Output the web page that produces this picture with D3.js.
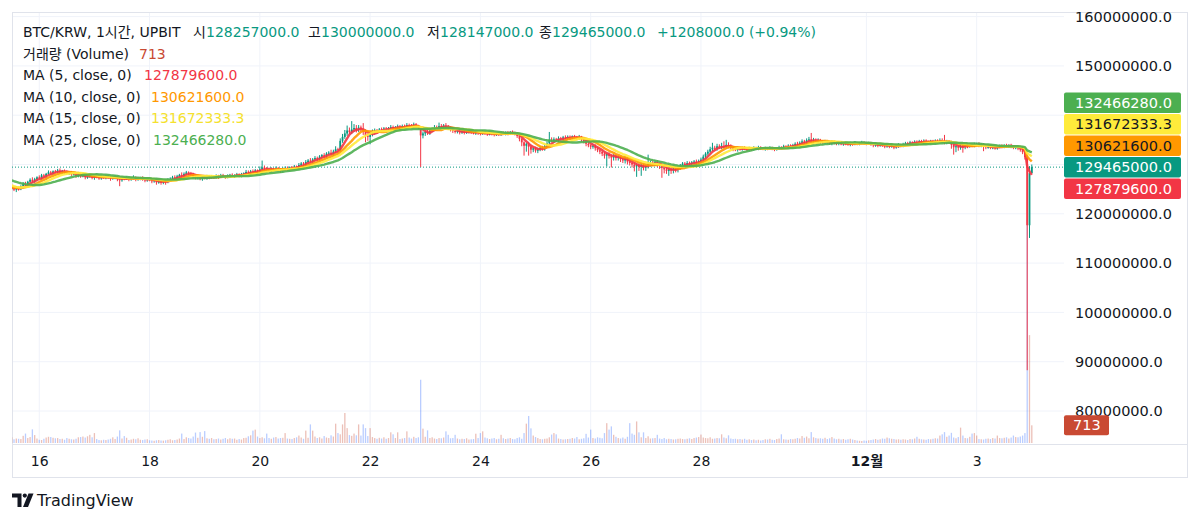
<!DOCTYPE html>
<html>
<head>
<meta charset="utf-8">
<script src="https://cdn.jsdelivr.net/npm/d3@7"></script>
<style>
  body { margin: 0; background: #fff; }
  svg text { font-family: "DejaVu Sans", "Noto Sans CJK KR", sans-serif; }
</style>
</head>
<body>
<svg id="chart" width="1200" height="522"></svg>
<script>
// BTC/KRW 1h, UPBIT - candles + volume + 4 moving averages
// prices are in units of 100,000 KRW (1253 = 125,300,000)
const UNIT = 1e5;
const startTime = '2024-11-15 12';   // first visible hourly candle

// closes before the visible window (only feed the moving averages)
const preCloses = [1288,1286,1289,1284,1282,1285,1280,1278,1281,1276,1273,1270,1264,1260,1256,1258,1254,1252,1256,1253,1250,1254,1257,1252];

const closes = [
  1253,1249,1252,1250,1256,1261,1258,1265,1269,1266, // 0
  1270,1274,1272,1278,1276,1281,1284,1282,1286,1285,
  1288,1284,1287,1285,1282,1284,1280,1281,1277,1279,
  1276,1278,1274,1275,1277,1273,1276,1274,1272,1275,
  1273,1276,1274,1271,1273,1275,1270,1268,1272,1271, // 40
  1273,1270,1272,1274,1269,1271,1273,1270,1268,1271,
  1269,1266,1268,1264,1265,1263,1267,1265,1269,1271,
  1274,1272,1276,1279,1277,1281,1284,1282,1280,1276,
  1273,1275,1271,1274,1272,1276,1273,1275,1274,1277, // 80
  1275,1278,1276,1274,1277,1279,1276,1278,1280,1277,
  1280,1282,1285,1283,1286,1284,1288,1286,1290,1294,
  1292,1290,1288,1291,1289,1292,1290,1287,1291,1293,
  1291,1294,1292,1296,1295,1299,1302,1300,1305,1308, // 120
  1306,1310,1313,1311,1316,1319,1317,1322,1324,1321,
  1326,1331,1329,1348,1356,1363,1369,1366,1371,1374,
  1370,1375,1372,1366,1359,1356,1362,1366,1369,1367,
  1371,1370,1373,1371,1374,1376,1373,1375,1377,1374, // 160
  1378,1376,1380,1379,1377,1381,1378,1375,1359,1363,
  1366,1364,1369,1373,1376,1374,1378,1376,1379,1377,
  1374,1370,1368,1366,1369,1365,1367,1364,1366,1368,
  1365,1363,1366,1364,1362,1365,1363,1361,1364,1362, // 200
  1360,1363,1361,1364,1362,1365,1363,1366,1364,1362,
  1358,1352,1345,1338,1342,1336,1330,1333,1328,1331,
  1334,1332,1337,1343,1350,1348,1351,1349,1353,1352,
  1355,1353,1356,1354,1357,1355,1353,1356,1351,1347, // 240
  1342,1339,1336,1338,1333,1329,1326,1322,1318,1321,
  1317,1314,1318,1313,1315,1311,1308,1312,1306,1303,
  1300,1296,1299,1295,1298,1294,1297,1301,1304,1302,
  1305,1301,1297,1293,1290,1287,1291,1288,1292,1289, // 280
  1294,1298,1302,1299,1303,1301,1304,1306,1303,1307,
  1310,1316,1322,1326,1331,1334,1332,1337,1335,1338,
  1336,1340,1337,1334,1331,1330,1333,1331,1334,1332,
  1330,1333,1331,1334,1332,1335,1333,1331,1333,1332, // 320
  1334,1332,1330,1333,1335,1334,1337,1335,1338,1336,
  1339,1342,1340,1344,1347,1345,1349,1351,1348,1350,
  1347,1349,1346,1344,1347,1345,1343,1346,1344,1342,
  1344,1341,1343,1342,1340,1343,1341,1344,1342,1343, // 360
  1345,1343,1342,1344,1341,1339,1340,1338,1341,1339,
  1337,1339,1336,1338,1335,1337,1340,1338,1341,1343,
  1342,1345,1343,1346,1344,1347,1345,1348,1346,1344,
  1347,1345,1348,1346,1349,1347,1344,1346,1345,1340, // 400
  1335,1337,1334,1338,1336,1339,1337,1340,1338,1341,
  1341,1338,1340,1337,1335,1336,1334,1335,1333,1336,
  1338,1336,1339,1337,1339,1336,1334,1335,1333,1330,
  1325,1315,1176.76,1282.57,1294.65                   // 440
];

// wick length above / below the body, same units
const wickHi = [
  3,2,4,3,2,3,4,2,3,5, 3,2,4,3,3,2,4,3,2,3, 3,4,2,3,3,2,3,4,2,3, 2,3,3,2,4,3,2,3,2,3,
  3,2,3,2,4,3,2,3,3,2, 3,2,3,4,2,3,2,3,3,2, 2,3,2,3,2,2,3,2,3,3, 3,4,3,2,5,3,3,2,3,3,
  3,4,3,2,4,3,2,3,2,3, 2,3,3,2,3,2,3,2,3,2, 3,2,4,3,3,4,3,2,6,14, 4,3,2,3,2,4,3,2,3,3,
  3,2,3,3,2,4,3,3,4,3, 5,3,4,3,3,2,4,3,3,6, 4,6,3,5,6,7,10,6,17,8, 6,5,4,12,5,4,3,5,4,3,
  3,4,3,3,2,4,3,3,4,3, 3,3,4,3,3,4,3,2,2,4, 3,4,3,3,4,3,7,4,3,5, 3,3,2,3,4,3,2,3,2,3,
  2,3,3,2,3,4,2,3,2,2, 3,2,3,2,3,2,3,2,3,2, 3,2,3,2,3,4,3,2,3,3, 3,4,3,4,16,5,4,3,4,3,
  3,4,3,3,2,3,3,4,2,3, 3,3,2,3,3,2,3,3,4,3, 4,3,3,2,3,3,3,4,3,3, 3,4,3,3,4,3,3,19,4,3,
  3,4,3,3,2,3,3,3,2,3, 4,3,3,3,4,3,3,3,4,3, 4,4,3,4,5,10,4,5,4,6, 9,10,5,4,3,3,3,3,2,3,
  2,3,2,3,2,3,2,2,3,2, 3,2,3,2,3,2,3,2,3,3, 3,3,4,3,4,3,4,5,13,4, 3,4,3,3,3,2,3,3,2,3,
  2,3,2,3,2,3,2,3,2,2, 3,2,3,2,2,3,2,3,2,2, 2,3,2,2,3,2,3,2,3,3, 3,3,2,3,3,3,3,3,3,2,
  3,3,3,3,4,4,13,4,3,3, 3,3,2,3,3,2,3,3,2,3, 3,4,3,3,2,3,2,3,2,3, 2,3,2,3,2,3,3,2,2,2,
  2,3,3,14,5.35
];
const wickLo = [
  4,3,5,3,2,4,3,3,2,3, 3,4,2,3,3,4,2,3,3,2, 3,2,3,4,2,3,3,2,4,3, 3,2,4,3,2,3,4,2,3,3,
  2,3,3,4,2,3,4,12,3,3, 2,4,3,3,3,2,3,3,4,3, 3,4,3,5,3,4,3,6,3,3, 2,3,3,2,4,3,2,3,3,4,
  3,3,3,4,2,3,3,2,3,3, 4,2,3,3,2,3,2,3,3,3, 3,2,3,3,2,4,3,3,3,4, 3,4,3,3,3,2,3,4,3,3,
  3,3,2,3,4,3,3,3,4,3, 4,3,3,4,3,3,3,4,3,3, 4,3,4,3,4,4,5,4,4,5, 5,4,5,6,14,8,15,5,4,4,
  3,4,3,3,4,3,3,4,3,3, 3,4,3,4,3,3,4,3,64,6, 5,4,4,3,4,3,3,4,3,3, 4,3,4,3,3,4,3,3,2,3,
  3,2,3,4,3,2,3,3,2,3, 3,2,3,3,2,3,4,3,4,3, 4,5,8,20,12,18,8,5,4,5, 4,4,4,3,4,3,4,3,3,3,
  3,2,3,4,3,3,4,3,5,4, 5,4,5,4,5,4,5,5,6,22, 5,20,6,5,5,6,5,6,6,5, 6,10,21,8,18,6,7,5,5,5,
  5,6,6,20,8,6,10,7,6,5, 5,5,4,4,5,4,3,4,4,3, 4,3,4,4,3,4,3,4,3,4, 3,4,4,3,4,3,4,3,3,2,
  3,2,3,3,2,3,3,2,3,3, 2,3,3,2,3,3,2,3,3,2, 3,3,2,3,3,4,3,3,3,4, 3,3,4,3,2,3,3,4,3,3,
  3,2,3,3,2,3,3,2,3,3, 2,3,3,2,3,4,3,3,2,3, 4,3,3,2,4,3,3,2,3,3, 3,2,3,3,2,3,3,2,3,3,
  3,3,2,3,3,2,3,3,3,8, 15,10,6,4,12,5,4,3,3,3, 3,3,3,10,4,3,3,3,3,3, 3,2,3,3,2,3,3,3,4,4,
  4,5,294.06,25.76,1.1
];

// hourly volume, BTC
const volumes = [
  230,150,180,170,160,290,380,200,240,550, 320,180,130,120,170,220,250,240,210,190,
  200,160,170,130,200,170,150,140,170,230, 240,260,220,270,330,230,400,160,120,110,
  130,120,140,170,230,160,260,510,180,280, 210,120,140,170,150,190,130,120,140,150,
  110,100,90,110,120,100,95,110,130,150, 110,120,140,180,380,160,230,200,180,260,
  420,210,440,250,480,190,170,200,150,160, 180,140,170,200,150,190,170,180,130,160,
  140,200,210,270,310,500,540,260,200,230, 190,380,200,170,220,240,180,200,210,400,
  180,170,160,200,230,300,220,170,500,210, 750,500,260,200,230,180,280,220,200,310,
  260,780,400,350,750,1210,600,320,290,380, 310,750,300,750,600,280,600,240,200,170,
  210,180,230,170,200,430,350,200,430,160, 180,200,470,220,180,250,200,230,2550,580,
  250,510,200,230,180,160,200,190,220,470, 330,190,200,330,180,150,170,160,190,140,
  150,160,375,200,400,470,220,190,160,180, 200,150,170,330,190,160,180,200,160,150,
  200,230,170,400,780,1090,590,300,240,200, 160,150,170,180,230,340,400,350,180,160,
  140,150,160,170,200,180,240,150,170,190, 370,220,540,200,180,230,210,190,400,800,
  540,670,330,250,200,180,220,170,250,800, 380,330,870,430,230,430,200,270,180,190,
  200,330,180,160,200,150,170,160,140,150, 170,180,160,150,170,190,160,200,220,240,
  340,220,200,190,230,170,180,200,190,350, 220,190,310,180,160,170,150,160,140,170,
  130,150,120,140,110,130,100,120,150,140, 170,130,120,160,180,350,150,140,130,160,
  150,170,200,180,280,210,260,190,440,230, 200,180,190,170,210,160,190,240,180,150,
  170,140,160,130,150,170,140,120,100,90, 80,100,90,110,120,140,160,130,150,180,
  170,220,190,170,160,140,150,130,150,140, 120,160,150,180,250,170,150,140,130,160,
  150,170,190,180,300,350,440,250,300,410, 220,190,240,620,300,200,190,250,380,400,
  300,160,150,140,170,180,160,200,180,300, 200,190,210,230,180,220,300,240,230,260,
  300,400,9000,4350,713
];

const maPeriods = [5, 10, 15, 25];
const maColors = ['#f23645', '#ff9800', '#ffeb3b', '#4caf50'];
const maLast = ['127879600.0', '130621600.0', '131672333.3', '132466280.0'];

const priceTicks = [80, 90, 100, 110, 120, 130, 140, 150, 160].map(d => d * 1e6);
const tickDates = ['2024-11-16','2024-11-18','2024-11-20','2024-11-22','2024-11-24','2024-11-26','2024-11-28','2024-12-01','2024-12-03'];
const tickLabels = ['16','18','20','22','24','26','28','12월','3'];

const ohlc = { o: '128257000.0', h: '130000000.0', l: '128147000.0', c: '129465000.0', chg: '+1208000.0 (+0.94%)' };
const lastVolume = 713;

// ---- layout
const pane = { x0: 12, y0: 12, x1: 1064, y1: 444 };
const axisRight = 1187, axisBottom = 477;
const UP = '#089981', DOWN = '#f23645';
const VOL_UP = 'rgba(200,74,51,0.35)', VOL_DOWN = 'rgba(41,98,255,0.32)';
const TXT = '#131722', GRID = '#f0f3fa', BORDER = '#e0e3eb';

const svg = d3.select('#chart');

const t0 = d3.timeParse('%Y-%m-%d %H')(startTime);
const hour = 3600 * 1000;
const n = closes.length;
const x = d3.scaleTime()
  .domain([t0, new Date(+t0 + (n - 1) * hour)])
  .range([11.7, 1031.8]);
const y = d3.scaleLinear().domain([80e6, 160e6]).range([411, 16.6]);
const yVol = d3.scaleLinear().domain([0, 10000]).range([443, 195]);

const candles = closes.map((c, i) => {
  const o = i === 0 ? preCloses[preCloses.length - 1] : closes[i - 1];
  return {
    t: new Date(+t0 + i * hour),
    o: o * UNIT, c: c * UNIT,
    h: (Math.max(o, c) + wickHi[i]) * UNIT,
    l: (Math.min(o, c) - wickLo[i]) * UNIT,
    v: volumes[i]
  };
});

const all = preCloses.concat(closes);
function movingAvg(p) {
  return closes.map((c, i) => {
    const end = preCloses.length + i;
    return { t: candles[i].t, v: d3.mean(all.slice(end - p + 1, end + 1)) * UNIT };
  });
}

// ---- grid
const grid = svg.append('g');
grid.selectAll('.hg').data(priceTicks).enter().append('line')
  .attr('x1', pane.x0).attr('x2', pane.x1)
  .attr('y1', d => y(d)).attr('y2', d => y(d))
  .attr('stroke', GRID);
const parseDay = d3.timeParse('%Y-%m-%d');
const tickTimes = tickDates.map(parseDay);
grid.selectAll('.vg').data(tickTimes).enter().append('line')
  .attr('x1', d => x(d)).attr('x2', d => x(d))
  .attr('y1', pane.y0).attr('y2', pane.y1)
  .attr('stroke', GRID);

// ---- frame
svg.append('rect')
  .attr('x', pane.x0 + 0.5).attr('y', pane.y0 + 0.5)
  .attr('width', axisRight - pane.x0).attr('height', axisBottom - pane.y0)
  .attr('fill', 'none').attr('stroke', BORDER);
svg.append('line').attr('x1', pane.x0).attr('x2', axisRight)
  .attr('y1', pane.y1 + 0.5).attr('y2', pane.y1 + 0.5).attr('stroke', BORDER);

svg.append('clipPath').attr('id', 'clip').append('rect')
  .attr('x', pane.x0).attr('y', pane.y0)
  .attr('width', pane.x1 - pane.x0).attr('height', pane.y1 - pane.y0);
const plot = svg.append('g').attr('clip-path', 'url(#clip)');

// ---- volume
plot.append('g').selectAll('rect').data(candles).enter().append('rect')
  .attr('x', d => x(d.t) - 0.65).attr('width', 1.3)
  .attr('y', d => yVol(d.v)).attr('height', d => yVol(0) - yVol(d.v))
  .attr('fill', d => d.c >= d.o ? VOL_UP : VOL_DOWN);

// ---- close line
const lastClose = candles[n - 1].c;
plot.append('line')
  .attr('x1', pane.x0).attr('x2', pane.x1)
  .attr('y1', y(lastClose)).attr('y2', y(lastClose))
  .attr('stroke', UP).attr('stroke-dasharray', '1 2');

// ---- candles
const cg = plot.append('g').selectAll('g').data(candles).enter().append('g');
cg.append('line')
  .attr('x1', d => x(d.t)).attr('x2', d => x(d.t))
  .attr('y1', d => y(d.h)).attr('y2', d => y(d.l))
  .attr('stroke', d => d.c >= d.o ? UP : DOWN).attr('stroke-width', 1);
cg.append('rect')
  .attr('x', d => x(d.t) - 0.9).attr('width', 1.8)
  .attr('y', d => y(Math.max(d.o, d.c)))
  .attr('height', d => Math.max(1, Math.abs(y(d.o) - y(d.c))))
  .attr('fill', d => d.c >= d.o ? UP : DOWN);

// ---- moving averages
const line = d3.line().x(d => x(d.t)).y(d => y(d.v));
maPeriods.forEach((p, k) => {
  plot.append('path')
    .datum(movingAvg(p))
    .attr('fill', 'none')
    .attr('stroke', maColors[k])
    .attr('stroke-width', 2.4)
    .attr('stroke-opacity', 0.9)
    .attr('stroke-linejoin', 'round')
    .attr('d', line);
});

// ---- right badges (stacked so they do not overlap)
const badgeH = 21.5;
const badges = maPeriods.map((p, k) => ({
  v: +maLast[k], text: maLast[k], fill: maColors[k],
  fg: (k === 1 || k === 2) ? TXT : '#fff'
}));
badges.push({ v: lastClose, text: ohlc.c, fill: UP, fg: '#fff', anchor: true });
badges.sort((a, b) => b.v - a.v);
const ai = badges.findIndex(b => b.anchor);
badges[ai].y = y(badges[ai].v);
for (let k = ai - 1; k >= 0; k--) badges[k].y = Math.min(y(badges[k].v), badges[k + 1].y - badgeH);
for (let k = ai + 1; k < badges.length; k++) badges[k].y = Math.max(y(badges[k].v), badges[k - 1].y + badgeH);

// ---- price axis (labels hidden under the badges are dropped, like the original)
const freeTicks = priceTicks.filter(t => badges.every(b => Math.abs(y(t) - b.y) > badgeH / 2 + 9));
const ya = svg.append('g').attr('transform', `translate(${pane.x1},0)`)
  .call(d3.axisRight(y).tickValues(freeTicks).tickSize(0).tickPadding(11)
    .tickFormat(d => d.toFixed(1)));
ya.select('.domain').remove();
ya.selectAll('text').attr('font-size', 14.5).attr('fill', TXT)
  .attr('font-family', '"DejaVu Sans", sans-serif');

// ---- time axis
const xa = svg.append('g').attr('transform', `translate(0,${pane.y1})`)
  .call(d3.axisBottom(x).tickValues(tickTimes).tickSize(0).tickPadding(12)
    .tickFormat((d, i) => tickLabels[i]));
xa.select('.domain').remove();
xa.selectAll('text').attr('font-size', 14).attr('fill', TXT)
  .attr('font-weight', (d, i) => tickLabels[i].includes('월') ? 700 : 400);

const bg = svg.append('g').selectAll('g').data(badges).enter().append('g')
  .attr('transform', d => `translate(${pane.x1},${d.y})`);
bg.append('rect').attr('x', 0).attr('y', -badgeH / 2 + 0.5)
  .attr('width', 117).attr('height', badgeH - 1).attr('rx', 2)
  .attr('fill', d => d.fill);
bg.append('text').attr('x', 11).attr('y', 5)
  .attr('font-size', 14.5).attr('fill', d => d.fg)
  .attr('font-family', '"DejaVu Sans", sans-serif')
  .text(d => d.text);

// volume badge
const vb = svg.append('g').attr('transform', `translate(${pane.x1},${yVol(lastVolume)})`);
vb.append('rect').attr('x', 0).attr('y', -10).attr('width', 45).attr('height', 20)
  .attr('rx', 2).attr('fill', '#c94a33');
vb.append('text').attr('x', 9).attr('y', 5).attr('font-size', 14.5).attr('fill', '#fff')
  .text(lastVolume);

// ---- legend
const legend = svg.append('g').attr('font-size', 14).attr('fill', TXT);
const row = k => 37 + k * 21.5;
const l1 = legend.append('text').attr('y', row(0));
l1.append('tspan').attr('x', 23).text('BTC/KRW, 1시간, UPBIT');
[['시', ohlc.o, 193, 206], ['고', ohlc.h, 308, 321], ['저', ohlc.l, 427, 440], ['종', ohlc.c, 539, 552]]
  .forEach(([k, v, xk, xv]) => {
    l1.append('tspan').attr('x', xk).text(k);
    l1.append('tspan').attr('x', xv).attr('fill', UP).text(v);
  });
l1.append('tspan').attr('x', 657).attr('fill', UP).text(ohlc.chg);

const l2 = legend.append('text').attr('y', row(1));
l2.append('tspan').attr('x', 23).text('거래량 (Volume)');
l2.append('tspan').attr('x', 139).attr('fill', '#c94a33').text(lastVolume);

const maValX = [144, 151, 151, 153];
const maValColor = ['#f23645', '#ff9800', '#f5e12e', '#4caf50'];
maPeriods.forEach((p, k) => {
  const t = legend.append('text').attr('y', row(2 + k));
  t.append('tspan').attr('x', 23).text(`MA (${p}, close, 0)`);
  t.append('tspan').attr('x', maValX[k]).attr('fill', maValColor[k]).text(maLast[k]);
});

// ---- TradingView mark
const logo = svg.append('g').attr('fill', TXT);
logo.append('path').attr('d', 'M12,493.5 H21.5 V507 H17.5 V497.5 H12 Z');
logo.append('circle').attr('cx', 24.8).attr('cy', 495.6).attr('r', 2.1);
logo.append('path').attr('d', 'M28.5,493.5 H33.5 L28,507 H23 Z');
svg.append('text').attr('x', 37).attr('y', 506).attr('font-size', 16).attr('fill', TXT)
  .text('TradingView');
</script>
</body>
</html>
